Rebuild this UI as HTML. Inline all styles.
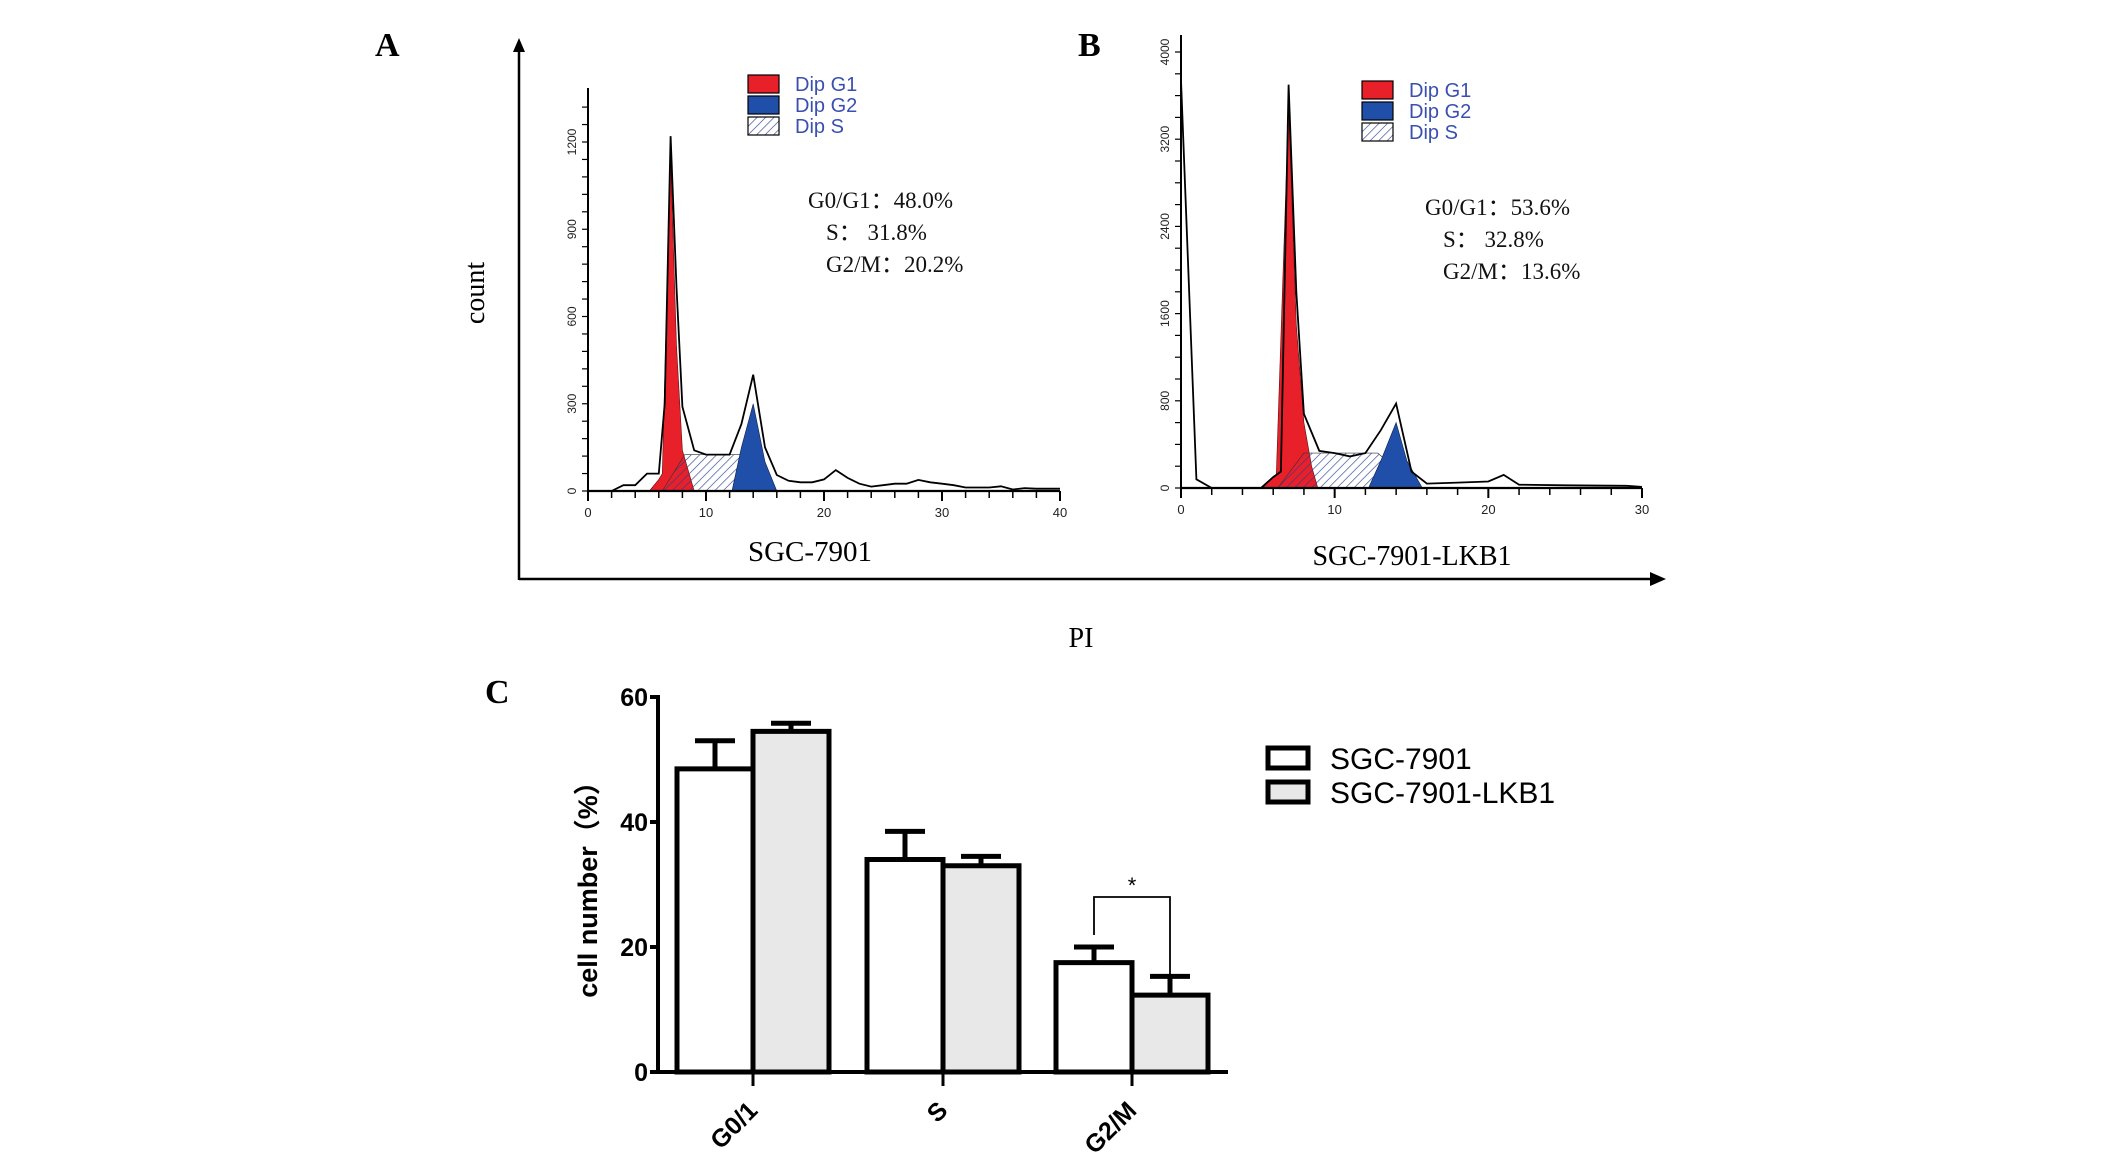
<!DOCTYPE html>
<html><head><meta charset="utf-8"><style>
html,body{margin:0;padding:0;background:#fff;}
svg{display:block;}
.ser{font-family:"Liberation Serif",serif;}
.san{font-family:"Liberation Sans",sans-serif;}
</style></head><body>
<svg id="fig" width="2126" height="1163" viewBox="0 0 2126 1163" xmlns="http://www.w3.org/2000/svg">
<defs>
<pattern id="hatch" patternUnits="userSpaceOnUse" width="6" height="6" patternTransform="rotate(45)">
<line x1="0" y1="0" x2="0" y2="6" stroke="#2a3f8f" stroke-width="1.3"/>
</pattern>
</defs>
<g id="root"></g>
</svg>
<script>
// ---------- Panel A data ----------
const aOutlineX=[2,3,4,5,6,6.5,7,7.5,8,9,10,11,12,13,14,15,16,17,18,19,20,21,22,23,24,25,26,27,28,29,30,31,32,34,35,36,37,38,40];
const aOutlineY=[0,20,20,60,60,300,1220,700,290,140,125,125,125,230,400,150,55,35,30,30,40,72,45,25,15,20,25,25,38,30,25,20,12,12,16,5,10,8,8];
const aG1X=[5.2,6,6.3,7,7.5,8,9];
const aG1Y=[0,40,60,1150,500,140,0];
const aSX=[6.3,8.2,13,15];
const aSY=[0,125,125,0];
const aG2X=[12.2,13,14,15,16];
const aG2Y=[0,150,300,100,0];
const aYTicks=[0,300,600,900,1200];
const aXTicks=[0,10,20,30,40];
// ---------- Panel B data ----------
const bOutlineX=[0,1,2,5.2,6,6.5,7,7.5,8,9,10,11,12,13,14,15,16,18,20,21,22,25,29,30];
const bOutlineY=[3740,80,0,0,100,150,3700,1800,680,340,320,290,320,530,774,150,40,50,60,120,30,25,20,10];
const bG1X=[5.3,6,6.2,7,7.5,8,8.5,8.9];
const bG1Y=[0,100,120,3500,1500,600,200,0];
const bSX=[6.3,8,12.8,15.5];
const bSY=[0,320,320,0];
const bG2X=[12.2,13,14,14.7,15.7];
const bG2Y=[0,250,600,250,0];
const bYTicks=[0,800,1600,2400,3200,4000];
const bXTicks=[0,10,20,30];
// ---------- Panel C data ----------
const cCategories=["G0/1","S","G2/M"];
const cSeries1=[48.5,34,17.5];
const cErr1=[4.5,4.5,2.5];
const cSeries2=[54.5,33,12.3];
const cErr2=[1.3,1.5,3];
const cYTicks=[0,20,40,60];

const NS="http://www.w3.org/2000/svg";
const root=document.getElementById('root');
function el(tag,attrs,parent,text){const e=document.createElementNS(NS,tag);for(const k in attrs)e.setAttribute(k,attrs[k]);if(text!==undefined)e.textContent=text;(parent||root).appendChild(e);return e;}

function histPanel(cfg){
  const g=el('g',{});
  
  
  const xs=v=>cfg.x0+(v-cfg.xmin)/(cfg.xmax-cfg.xmin)*(cfg.x1-cfg.x0);
  const ys=v=>cfg.base-v*cfg.ky;
  const pts=(X,Y)=>X.map((x,i)=>xs(x).toFixed(1)+','+ys(Y[i]).toFixed(1)).join(' ');
  const g1=el('polygon',{points:pts(cfg.g1x,cfg.g1y),fill:'#e8202a',stroke:'#5a1010','stroke-width':0.6},g);
  
  
  const s=el('polygon',{points:pts(cfg.sx,cfg.sy),fill:'url(#hatch)',stroke:'#333','stroke-width':0.6},g);
  
  
  const g2=el('polygon',{points:pts(cfg.g2x,cfg.g2y),fill:'#1f4fa8',stroke:'#10204a','stroke-width':0.6},g);
  
  
  const ol=el('polyline',{points:pts(cfg.ox,cfg.oy),fill:'none',stroke:'#000','stroke-width':1.8},g);
  
  
  const ya=el('line',{x1:cfg.x0,y1:cfg.top,x2:cfg.x0,y2:cfg.base,stroke:'#000','stroke-width':2},g);
  
  
  const xa=el('line',{x1:cfg.x0,y1:cfg.base,x2:cfg.x1,y2:cfg.base,stroke:'#000','stroke-width':2.2},g);
  
  
  for(let v=0;ys(v)>cfg.top+2;v+=cfg.yminor){el('line',{x1:cfg.x0-6,y1:ys(v),x2:cfg.x0,y2:ys(v),stroke:'#000','stroke-width':1.2},g);}
  cfg.yticks.forEach(v=>{
    const t=el('text',{x:0,y:0,transform:`translate(${cfg.x0-12},${ys(v)}) rotate(-90)`,'text-anchor':'middle','font-size':12,class:'san',fill:'#222'},g,String(v));
    
    
  });
  for(let v=cfg.xmin;v<=cfg.xmax+0.001;v+=2){const big=(v%10===0);el('line',{x1:xs(v),y1:cfg.base,x2:xs(v),y2:cfg.base+(big?10:7),stroke:'#000','stroke-width':big?2:1.5},g);}
  cfg.xticks.forEach(v=>{
    const t=el('text',{x:xs(v),y:cfg.base+26,'text-anchor':'middle','font-size':13,class:'san',fill:'#222'},g,String(v));
    
    
  });
  const L=cfg.leg;
  const items=[['Dip G1','#e8202a'],['Dip G2','#1f4fa8'],['Dip S','url(#hatch)']];
  items.forEach((it,i)=>{
    const r=el('rect',{x:L.x,y:L.y+i*21,width:31,height:18,fill:it[1],stroke:'#000','stroke-width':1.2},g);
    
    
    const t=el('text',{x:L.x+47,y:L.y+i*21+16,'font-size':20,class:'san',fill:'#3a4fb0'},g,it[0]);
    
    
  });
  cfg.stats.forEach((s,i)=>{
    const t=el('text',{x:cfg.st.x+(i?18:0),y:cfg.st.y+i*32,'font-size':23,class:'ser',fill:'#111','xml:space':'preserve'},g,s);
    
    
  });
}

histPanel({name:'panel-a-histogram',x0:588,x1:1060,xmin:0,xmax:40,base:491,top:88,ky:(491-142)/1200,yminor:60,
 ox:aOutlineX,oy:aOutlineY,g1x:aG1X,g1y:aG1Y,sx:aSX,sy:aSY,g2x:aG2X,g2y:aG2Y,yticks:aYTicks,xticks:aXTicks,
 leg:{x:748,y:75},st:{x:808,y:208},stats:['G0/G1：48.0%','S： 31.8%','G2/M：20.2%']});
histPanel({name:'panel-b-histogram',x0:1181,x1:1642,xmin:0,xmax:30,base:488,top:35,ky:(488-52)/4000,yminor:200,
 ox:bOutlineX,oy:bOutlineY,g1x:bG1X,g1y:bG1Y,sx:bSX,sy:bSY,g2x:bG2X,g2y:bG2Y,yticks:bYTicks,xticks:bXTicks,
 leg:{x:1362,y:81},st:{x:1425,y:215},stats:['G0/G1：53.6%','S： 32.8%','G2/M：13.6%']});

function txt(name,attrs,s){const t=el('text',attrs,root,s);return t;}
let bl=el('line',{x1:519,y1:50,x2:519,y2:580,stroke:'#000','stroke-width':2.5});

let ba=el('polygon',{points:'519,38 513,52 525,52',fill:'#000'});

let bx=el('line',{x1:519,y1:579,x2:1652,y2:579,stroke:'#000','stroke-width':2.5});

let bxa=el('polygon',{points:'1666,579 1650,572 1650,586',fill:'#000'});

txt('panel-a-label',{x:375,y:56,'font-size':34,'font-weight':'bold',class:'ser'},'A');
txt('panel-b-label',{x:1078,y:56,'font-size':34,'font-weight':'bold',class:'ser'},'B');
txt('panel-c-label',{x:485,y:703,'font-size':34,'font-weight':'bold',class:'ser'},'C');
txt('count-axis-title',{x:0,y:0,transform:'translate(484,293) rotate(-90)','text-anchor':'middle','font-size':28,class:'ser'},'count');
txt('pi-axis-title',{x:1081,y:647,'text-anchor':'middle','font-size':28,class:'ser'},'PI');
txt('panel-a-sample-label',{x:810,y:561,'text-anchor':'middle','font-size':29,class:'ser'},'SGC-7901');
txt('panel-b-sample-label',{x:1412,y:565,'text-anchor':'middle','font-size':28,class:'ser'},'SGC-7901-LKB1');

// ---------- Panel C ----------
const cx0=661,cx1=1231,cBase=1077,cTop=702,cMax=60;
const cy=v=>cBase-v/cMax*(cBase-cTop);
const groupStart=[680,870,1059];
const barW=76;
const gc=el('g',{transform:'translate(-3,-5)'});


function bar(name,x,v,e,fill){
  const r=el('rect',{x:x,y:cy(v),width:barW,height:cBase-cy(v),fill:fill,stroke:'#000','stroke-width':5},gc);
  
  
  const mx=x+barW/2;
  const eb=el('path',{d:`M${mx},${cy(v)} V${cy(v+e)} M${mx-20},${cy(v+e)} H${mx+20}`,stroke:'#000','stroke-width':5,fill:'none'},gc);
  
  
}
cCategories.forEach((c,i)=>{
  bar('bar-sgc7901-'+c.replace('/','').toLowerCase(),groupStart[i],cSeries1[i],cErr1[i],'#fff');
  bar('bar-lkb1-'+c.replace('/','').toLowerCase(),groupStart[i]+barW,cSeries2[i],cErr2[i],'#e8e8e8');
  const tk=groupStart[i]+barW;
  el('line',{x1:tk,y1:cBase,x2:tk,y2:cBase+14,stroke:'#000','stroke-width':3},gc);
  const t=el('text',{x:0,y:0,transform:`translate(${tk+6},${cBase+40}) rotate(-45)`,'text-anchor':'end','font-size':25,'font-weight':'bold',class:'san'},gc,c);
  
  
});
let cya=el('line',{x1:cx0,y1:cTop-2,x2:cx0,y2:cBase+2,stroke:'#000','stroke-width':4},gc);

let cxa=el('line',{x1:cx0-8,y1:cBase,x2:cx1,y2:cBase,stroke:'#000','stroke-width':4},gc);

cYTicks.forEach(v=>{
  el('line',{x1:cx0-8,y1:cy(v),x2:cx0,y2:cy(v),stroke:'#000','stroke-width':4},gc);
  const t=el('text',{x:cx0-10,y:cy(v)+9,'text-anchor':'end','font-size':25,'font-weight':'bold',class:'san'},gc,String(v));
  
  
});
const b1=groupStart[2]+barW/2, b2=groupStart[2]+barW*1.5;
let br=el('path',{d:`M${b1},${cy(cSeries1[2]+cErr1[2])-12} V${cy(28)} H${b2} V${cy(cSeries2[2]+cErr2[2])}`,stroke:'#000','stroke-width':1.8,fill:'none'},gc);

let ast=el('text',{x:(b1+b2)/2,y:cy(28)-4,'text-anchor':'middle','font-size':22,class:'san'},gc,'*');

txt('c-y-axis-title',{x:0,y:0,transform:'translate(597,883) rotate(-90)','text-anchor':'middle','font-size':27,'font-weight':'bold',style:'font-family:"Liberation Sans","Noto Sans CJK SC",sans-serif'},'cell number（%）');
[['SGC-7901','#fff'],['SGC-7901-LKB1','#e8e8e8']].forEach((it,i)=>{
  const r=el('rect',{x:1268,y:748+i*34,width:40,height:20,fill:it[1],stroke:'#000','stroke-width':5});
  
  
  txt('c-legend-entry',{x:1330,y:769+i*34,'font-size':30,class:'san'},it[0]);
});
</script>
</body></html>
